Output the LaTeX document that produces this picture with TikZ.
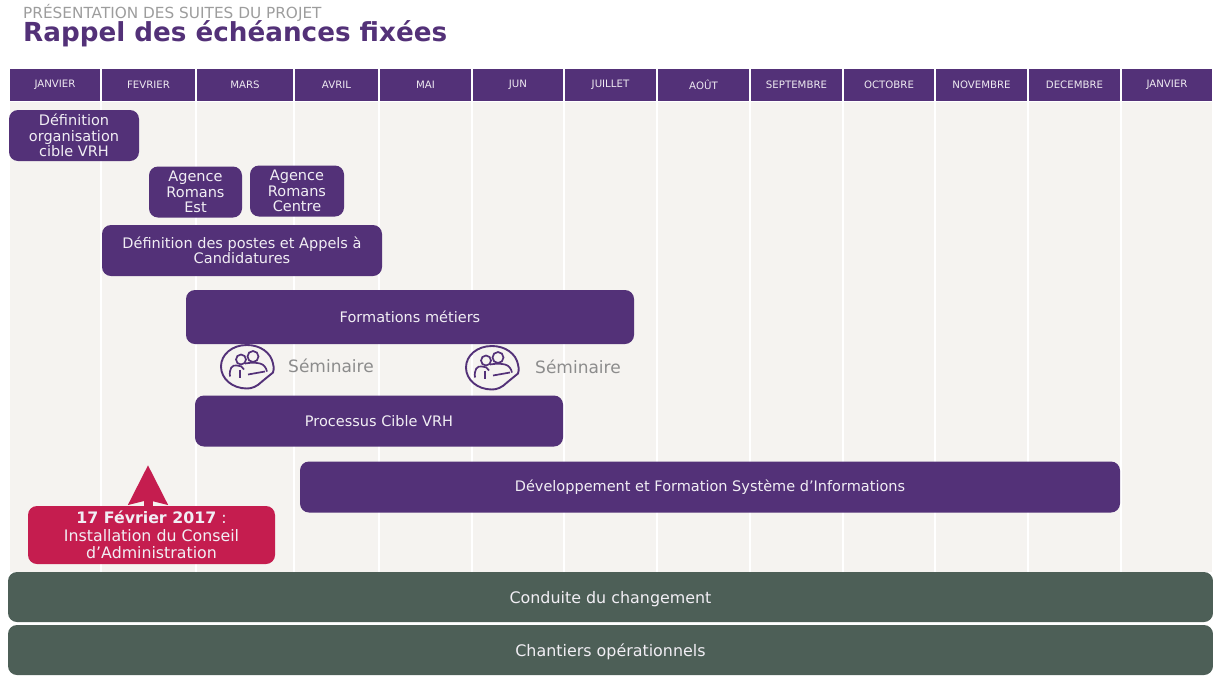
\documentclass[tikz,border=0pt]{standalone}
\usepackage{fontspec}
\setmainfont{DejaVu Sans}
\usetikzlibrary{arrows.meta, positioning}

\definecolor{violet}{HTML}{533178}
\definecolor{crimson}{HTML}{C51D4F}
\definecolor{slate}{HTML}{4D5F57}
\definecolor{paper}{HTML}{F5F3F0}
\definecolor{ash}{HTML}{8C8C8C}

\tikzset{
  month/.style={fill=violet, text=white!90!violet, inner sep=0pt, minimum height=32pt, font=\fontsize{10.2}{12}\selectfont},
  task/.style={fill=violet, text=white!92!violet, rounded corners=9pt, inner sep=0pt, align=center, font=\fontsize{14.5}{15.5}\selectfont},
  stack/.style={task, font=\fontsize{14.5}{15.3}\selectfont},
  band/.style={task, fill=slate, minimum width=1205pt, minimum height=50pt, text depth=0pt, font=\fontsize{15.9}{18}\selectfont},
  seminar/.pic={
    \draw[violet, line width=1.9pt] (14,15) .. controls (9,20) and (4,22) .. (-1,22) .. controls (-16,22) and (-27,12) .. (-27,0) .. controls (-27,-12) and (-16,-21.5) .. (-1,-21.5) .. controls (12,-21.5) and (23,-14) .. (25,-3) .. controls (26,0) and (26,2) .. (25,6) -- cycle;
    \draw[violet, line width=1.7pt] (-7,-7) circle (5);
    \draw[violet, line width=1.7pt] (5,-10) circle (5.5);
    \draw[violet, line width=1.7pt] (-18,10) .. controls (-19,2) and (-16,-2) .. (-11,-1) .. controls (-8,-1) and (-5,0) .. (-4,3);
    \draw[violet, line width=1.7pt] (-8,3) -- (-8,11);
    \draw[violet, line width=1.7pt] (-3,-3) .. controls (2,-4) and (8,-4) .. (12,-3) .. controls (16,-2) and (18,1) .. (19,5);
    \draw[violet, line width=1.7pt] (0,8) -- (17,5);
  },
}

\begin{document}
\begin{tikzpicture}[x=1pt, y=-1pt]
  \useasboundingbox (0, 0) rectangle (1213, 675);

  % Title
  \node[anchor=base west, inner sep=0pt, text=ash!85, font=\fontsize{15.3}{17}\selectfont] (sub) at (23, 18) {PRÉSENTATION DES SUITES DU PROJET};
  \node[anchor=base west, inner sep=0pt, text=violet, font=\fontsize{26.2}{30}\bfseries\selectfont] (title) at (23, 41) {Rappel des échéances fixées};

  % Months
  \foreach \a/\b/\m [count=\i] in {9/101/JANVIER, 101/196/FEVRIER, 196/294/MARS, 294/379/AVRIL, 379/472/MAI, 472/564/JUN, 564/657/JUILLET, 657/750/AOÛT, 750/843/SEPTEMBRE, 843/935/OCTOBRE, 935/1028/NOVEMBRE, 1028/1121/DECEMBRE, 1121/1213/JANVIER} {
    \fill[paper] (\a+0.75, 102) rectangle (\b-0.75, 572);
    \node[month, minimum width=\b-\a-1.6] (m\i) at ({(\a+\b)/2}, 85) {\m};
  }

  % Nodes
  \node[stack, minimum width=130pt, minimum height=51pt] (orga) at (74, 135.5) {Définition\\organisation\\cible VRH};
  \node[stack, minimum width=93pt, minimum height=51pt] (est) at (195.5, 192) {Agence\\Romans\\Est};
  \node[stack, minimum width=94pt, minimum height=51pt] (centre) at (297, 191) {Agence\\Romans\\Centre};
  \node[task, minimum width=280pt, minimum height=51pt] (postes) at (242, 250.5) {Définition des postes et Appels à\\Candidatures};
  \node[task, minimum width=448pt, minimum height=54pt] (metiers) at (410, 317) {Formations métiers};
  \node[task, minimum width=368pt, minimum height=51pt] (cible) at (379, 421) {Processus Cible VRH};
  \node[task, minimum width=820pt, minimum height=51pt] (si) at (710, 487) {Développement et Formation Système d'Informations};
  \node[task, fill=crimson, minimum width=247pt, minimum height=58pt, font=\fontsize{15.8}{17.4}\selectfont] (ca) at (151.5, 535) {\textbf{17 Février 2017} :\\Installation du Conseil\\d'Administration};
  \node[band] (conduite) at (610.5, 597) {Conduite du changement};
  \node[band] (chantiers) at (610.5, 650) {Chantiers opérationnels};

  % Seminars
  \pic at (248, 366.5) {seminar};
  \pic at (493, 367.5) {seminar};
  \node[text=ash, inner sep=0pt, font=\fontsize{17}{20}\selectfont] (sem1) at (331, 366) {Séminaire};
  \node[text=ash, inner sep=0pt, font=\fontsize{17}{20}\selectfont] (sem2) at (578, 367) {Séminaire};

  % Edges
  \coordinate (tip) at (148, 465);
  \draw[crimson, line width=9pt, -{Stealth[length=39pt, width=38pt, inset=4pt]}] (ca.north -| tip) -- (tip);
\end{tikzpicture}
\end{document}
